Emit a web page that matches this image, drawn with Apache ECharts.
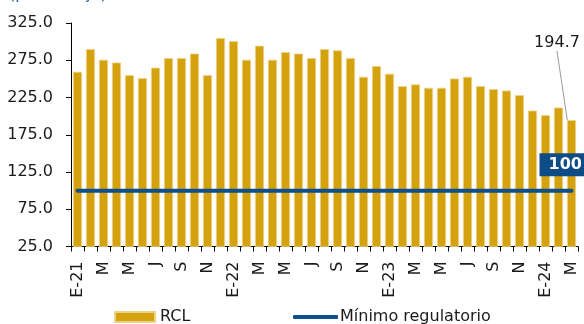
<!DOCTYPE html>
<html>
<head>
<meta charset="utf-8">
<script src="https://cdn.jsdelivr.net/npm/echarts@6/dist/echarts.min.js"></script>
<style>
html,body{margin:0;padding:0;background:#fff;}
#c{width:584px;height:324px;}
</style>
</head>
<body>
<div id="c"></div>
<script>
const categories = [
  'E-21','F','M','A','M','J','J','A','S','O','N','D',
  'E-22','F','M','A','M','J','J','A','S','O','N','D',
  'E-23','F','M','A','M','J','J','A','S','O','N','D',
  'E-24','F','M'
];
const rclValues = [
  259.5, 290.0, 275.7, 272.0, 255.0, 251.0, 265.0, 278.0, 278.0, 284.0, 255.0, 304.8,
  300.8, 275.7, 294.5, 275.7, 286.0, 284.0, 278.0, 290.0, 288.2, 278.0, 252.8, 267.2,
  256.9, 240.3, 242.5, 238.0, 238.0, 250.5, 252.8, 240.3, 236.3, 234.4, 228.2, 207.5,
  201.3, 211.6, 194.7
];
const minimoValues = categories.map(() => 100);
const yTicks = { min: 25, max: 325, interval: 50 };
const lastLabelText = '194.7';

const FONT = 'DejaVu Sans';
const last = rclValues.length - 1;

const chart = echarts.init(document.getElementById('c'), null, {renderer: 'canvas'});
chart.setOption({
  backgroundColor: '#ffffff',
  animation: false,
  textStyle: { fontFamily: FONT },
  graphic: [{
    type: 'text', left: 9, top: -13,
    style: { text: '(porcentaje)', font: '16px "DejaVu Sans"', fill: '#1f5f9f' }
  }],
  grid: { left: 71, right: 6, top: 23, bottom: 77.5 },
  legend: [{
    data: [{ name: 'RCL', icon: 'rect' }], left: 109, top: 304, itemWidth: 40, itemHeight: 10, itemGap: 5,
    textStyle: { fontFamily: FONT, fontSize: 16, color: '#1a1a1a' }
  }, {
    data: [{ name: 'Mínimo regulatorio', icon: 'roundRect' }], left: 288, top: 304, itemWidth: 45, itemHeight: 4,
    textStyle: { fontFamily: FONT, fontSize: 16, color: '#1a1a1a', padding: [0,0,0,-3] }
  }],
  xAxis: {
    type: 'category',
    data: categories,
    boundaryGap: true,
    axisLine: { lineStyle: { color: '#000', width: 1 } },
    axisTick: { show: true, length: 5, interval: 0, lineStyle: { color: '#000' } },
    axisLabel: {
      interval: 1, rotate: 90, margin: 15,
      fontFamily: FONT, fontSize: 16, color: '#1a1a1a'
    },
    splitLine: { show: false }
  },
  yAxis: {
    type: 'value',
    min: yTicks.min, max: yTicks.max, interval: yTicks.interval,
    axisLine: { show: true, lineStyle: { color: '#000', width: 1 } },
    axisTick: { show: true, length: 5, lineStyle: { color: '#000' } },
    axisLabel: {
      margin: 18, fontFamily: FONT, fontSize: 16, color: '#1a1a1a',
      formatter: v => v.toFixed(1)
    },
    splitLine: { show: false }
  },
  series: [{
    name: 'RCL',
    type: 'bar',
    barCategoryGap: '30%',
    itemStyle: { color: '#D4A20F', borderColor: '#EDD38A', borderWidth: 0.8 },
    data: rclValues.map((v, i) => i === last ? {
      value: v,
      label: {
        show: true, formatter: lastLabelText, position: 'top',
        fontFamily: FONT, fontSize: 16, color: '#1a1a1a'
      },
      labelLine: { show: true, lineStyle: { color: '#9a9a9a', width: 1 } }
    } : v),
    labelLayout: function (p) {
      if (p.dataIndex === last) {
        return { x: 557, y: 43, align: 'center', verticalAlign: 'middle' };
      }
    },
    z: 1
  }, {
    name: 'Mínimo regulatorio',
    type: 'line',
    symbol: 'none',
    lineStyle: { color: '#0E4F8C', width: 4, cap: 'round' },
    itemStyle: { color: '#0E4F8C' },
    data: minimoValues,
    endLabel: {
      show: true, distance: 0, offset: [-32, -26],
      formatter: '{c}', fontFamily: FONT, fontSize: 16, fontWeight: 'bold',
      color: '#fff', backgroundColor: '#0D4C85', padding: [4, 8, 3, 9]
    },
    z: 3
  }]
});
</script>
</body>
</html>
